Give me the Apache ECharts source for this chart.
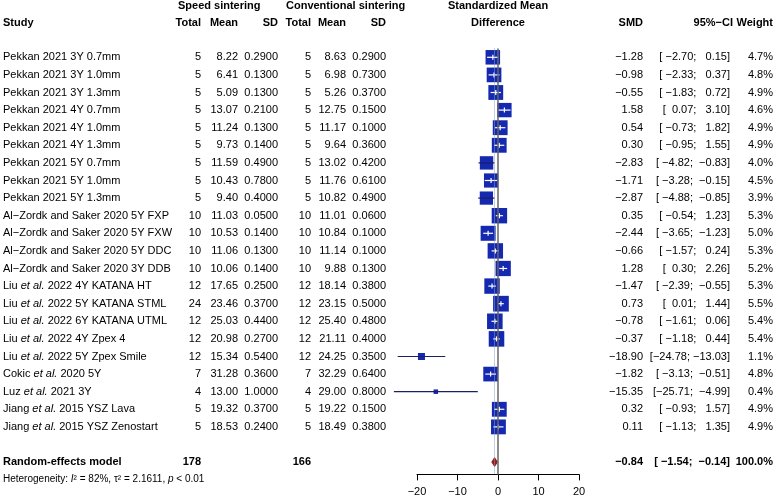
<!doctype html>
<html lang="en">
<head>
<meta charset="UTF-8">
<title>Forest plot</title>
<style>
  html, body { margin: 0; padding: 0; background: #fff; }
  #chart { width: 776px; height: 498px; }
</style>
</head>
<body>
<div id="chart"></div>
<script src="https://cdn.jsdelivr.net/npm/echarts@6/dist/echarts.min.js"></script>
<script>
// study table
var studies = [
  'Pekkan 2021 3Y 0.7mm', 'Pekkan 2021 3Y 1.0mm', 'Pekkan 2021 3Y 1.3mm',
  'Pekkan 2021 4Y 0.7mm', 'Pekkan 2021 4Y 1.0mm', 'Pekkan 2021 4Y 1.3mm',
  'Pekkan 2021 5Y 0.7mm', 'Pekkan 2021 5Y 1.0mm', 'Pekkan 2021 5Y 1.3mm',
  'Al\u2212Zordk and Saker 2020 5Y FXP', 'Al\u2212Zordk and Saker 2020 5Y FXW',
  'Al\u2212Zordk and Saker 2020 5Y DDC', 'Al\u2212Zordk and Saker 2020 3Y DDB',
  'Liu et al. 2022 4Y KATANA HT', 'Liu et al. 2022 5Y KATANA STML', 'Liu et al. 2022 6Y KATANA UTML',
  'Liu et al. 2022 4Y Zpex 4', 'Liu et al. 2022 5Y Zpex Smile',
  'Cokic et al. 2020 5Y', 'Luz et al. 2021 3Y',
  'Jiang et al. 2015 YSZ Lava', 'Jiang et al. 2015 YSZ Zenostart'
];
var speedTotal = [5, 5, 5, 5, 5, 5, 5, 5, 5, 10, 10, 10, 10, 12, 24, 12, 12, 12, 7, 4, 5, 5];
var speedMean = [8.22, 6.41, 5.09, 13.07, 11.24, 9.73, 11.59, 10.43, 9.40, 11.03, 10.53, 11.06, 10.06,
                 17.65, 23.46, 25.03, 20.98, 15.34, 31.28, 13.00, 19.32, 18.53];
var speedSD = [0.29, 0.13, 0.13, 0.21, 0.13, 0.14, 0.49, 0.78, 0.40, 0.05, 0.14, 0.13, 0.14,
               0.25, 0.37, 0.44, 0.27, 0.54, 0.36, 1.00, 0.37, 0.24];
var convTotal = [5, 5, 5, 5, 5, 5, 5, 5, 5, 10, 10, 10, 10, 12, 12, 12, 12, 12, 7, 4, 5, 5];
var convMean = [8.63, 6.98, 5.26, 12.75, 11.17, 9.64, 13.02, 11.76, 10.82, 11.01, 10.84, 11.14, 9.88,
                18.14, 23.15, 25.40, 21.11, 24.25, 32.29, 29.00, 19.22, 18.49];
var convSD = [0.29, 0.73, 0.37, 0.15, 0.10, 0.36, 0.42, 0.61, 0.49, 0.06, 0.10, 0.10, 0.13,
              0.38, 0.50, 0.48, 0.40, 0.35, 0.64, 0.80, 0.15, 0.38];
var smd = [-1.28, -0.98, -0.55, 1.58, 0.54, 0.30, -2.83, -1.71, -2.87, 0.35, -2.44, -0.66, 1.28,
           -1.47, 0.73, -0.78, -0.37, -18.90, -1.82, -15.35, 0.32, 0.11];
var ciLow = [-2.70, -2.33, -1.83, 0.07, -0.73, -0.95, -4.82, -3.28, -4.88, -0.54, -3.65, -1.57, 0.30,
             -2.39, 0.01, -1.61, -1.18, -24.78, -3.13, -25.71, -0.93, -1.13];
var ciHigh = [0.15, 0.37, 0.72, 3.10, 1.82, 1.55, -0.83, -0.15, -0.85, 1.23, -1.23, 0.24, 2.26,
              -0.55, 1.44, 0.06, 0.44, -13.03, -0.51, -4.99, 1.57, 1.35];
var weight = [4.7, 4.8, 4.9, 4.6, 4.9, 4.9, 4.0, 4.5, 3.9, 5.3, 5.0, 5.3, 5.2,
              5.3, 5.5, 5.4, 5.4, 1.1, 4.8, 0.4, 4.9, 4.9];

// pooled (random effects)
var pooledTotals = [178, 166];
var pooledEst = [-0.84, -1.54, -0.14];
var heterogeneity = { i2: '82%', tau2: '2.1611', p: '0.01' };
var xTicks = [-20, -10, 0, 10, 20];

var FONT = "'Liberation Sans', Arial, sans-serif";
var SUMMARY_ROW = 23;
var HET_ROW = 24;

function minus(s) { return String(s).replace('-', '\u2212'); }
function f2(v) { return minus(v.toFixed(2)); }
function pad(s, w) { while (s.length < w) s = ' ' + s; return s; }
function ciText(lo, hi) { return '[' + pad(f2(lo), 6) + '; ' + pad(f2(hi), 6) + ']'; }

function txt(x, y, s, align, bold, size) {
  var font = (bold ? 'bold ' : '') + (size || 11) + 'px ' + FONT;
  return {
    type: 'text',
    style: {
      x: x, y: y, text: s, fill: '#000', font: font,
      align: align, textAlign: align, verticalAlign: 'middle', textVerticalAlign: 'middle',
      rich: {
        it: { font: 'italic ' + (size || 11) + 'px ' + FONT, fill: '#000' }
      }
    }
  };
}

function renderStudy(params, api) {
  var i = params.dataIndex;
  var y = api.coord([0, i])[1];
  var xm = api.coord([smd[i], i])[0];
  var xl = api.coord([ciLow[i], i])[0];
  var xh = api.coord([ciHigh[i], i])[0];
  var side = Math.max(4.5, 6.7 * Math.sqrt(weight[i]));
  var inside = (xh - xl) <= side;
  var name = studies[i].replace('et al.', '{it|et al.}');
  var kids = [
    txt(3, y, name, 'left'),
    txt(201, y, String(speedTotal[i]), 'right'),
    txt(238, y, speedMean[i].toFixed(2), 'right'),
    txt(278, y, speedSD[i].toFixed(4), 'right'),
    txt(311, y, String(convTotal[i]), 'right'),
    txt(346, y, convMean[i].toFixed(2), 'right'),
    txt(386, y, convSD[i].toFixed(4), 'right'),
    txt(643, y, f2(smd[i]), 'right'),
    txt(730, y, ciText(ciLow[i], ciHigh[i]), 'right'),
    txt(773, y, weight[i].toFixed(1) + '%', 'right'),
    {
      type: 'rect',
      shape: { x: xm - side / 2, y: y - side / 2, width: side, height: side },
      style: { fill: '#1428b0' }
    },
    {
      type: 'line',
      shape: { x1: xl, y1: y, x2: xh, y2: y },
      style: { stroke: inside ? '#fff' : '#1c2060', lineWidth: 1.2 }
    }
  ];
  if (inside) {
    kids.push({
      type: 'line',
      shape: { x1: xm, y1: y - 2.5, x2: xm, y2: y + 2.5 },
      style: { stroke: '#fff', lineWidth: 1.2 }
    });
  }
  return { type: 'group', children: kids };
}

function renderPooled(params, api) {
  var y = api.coord([0, SUMMARY_ROW])[1];
  var yh = api.coord([0, HET_ROW])[1];
  var xm = api.coord([pooledEst[0], SUMMARY_ROW])[0];
  var xl = api.coord([pooledEst[1], SUMMARY_ROW])[0];
  var xh = api.coord([pooledEst[2], SUMMARY_ROW])[0];
  var h = 4.5;
  var het = {
    type: 'text',
    style: {
      x: 3, y: yh, fill: '#000', font: '10px ' + FONT,
      align: 'left', textAlign: 'left', verticalAlign: 'middle', textVerticalAlign: 'middle',
      text: 'Heterogeneity: {it|I}\u00b2 = ' + heterogeneity.i2 + ', \u03c4\u00b2 = ' + heterogeneity.tau2 +
            ', {it|p} < ' + heterogeneity.p,
      rich: { it: { font: 'italic 10px ' + FONT, fill: '#000' } }
    }
  };
  return {
    type: 'group',
    children: [
      txt(3, y, 'Random-effects model', 'left', true),
      txt(201, y, String(pooledTotals[0]), 'right', true),
      txt(311, y, String(pooledTotals[1]), 'right', true),
      txt(643, y, f2(pooledEst[0]), 'right', true),
      txt(730, y, ciText(pooledEst[1], pooledEst[2]), 'right', true),
      txt(773, y, '100.0%', 'right', true),
      {
        type: 'polygon',
        shape: { points: [[xl, y], [xm, y - h], [xh, y], [xm, y + h]] },
        style: { fill: '#9b1b1b', stroke: '#7a1010', lineWidth: 0.8 }
      },
      het
    ]
  };
}

function head(x, y, s, align) {
  return {
    type: 'text',
    x: x, y: y,
    style: {
      text: s, fill: '#000', font: 'bold 11px ' + FONT,
      align: align, textAlign: align, verticalAlign: 'middle', textVerticalAlign: 'middle'
    }
  };
}

var chart = echarts.init(document.getElementById('chart'), null, { renderer: 'canvas' });

var option = {
  animation: false,
  backgroundColor: '#fff',
  grid: { left: 417, right: 197, top: 48.5, bottom: 23.6 },
  xAxis: {
    type: 'value', min: -20, max: 20, interval: 10,
    axisLine: { show: true, onZero: false, lineStyle: { color: '#000', width: 1 } },
    axisTick: { show: true, length: 6, lineStyle: { color: '#000' } },
    axisLabel: {
      color: '#000', fontSize: 11, fontFamily: FONT, margin: 12,
      formatter: function (v) { return minus(v); }
    },
    splitLine: { show: false }
  },
  yAxis: { type: 'value', inverse: true, min: -0.5, max: 23.7, show: false },
  graphic: [
    head(178, 6, 'Speed sintering', 'left'),
    head(286, 6, 'Conventional sintering', 'left'),
    head(498, 6, 'Standardized Mean', 'center'),
    head(3, 23, 'Study', 'left'),
    head(201, 23, 'Total', 'right'),
    head(238, 23, 'Mean', 'right'),
    head(278, 23, 'SD', 'right'),
    head(311, 23, 'Total', 'right'),
    head(346, 23, 'Mean', 'right'),
    head(386, 23, 'SD', 'right'),
    head(498, 23, 'Difference', 'center'),
    head(643, 23, 'SMD', 'right'),
    head(733, 23, '95%\u2212CI', 'right'),
    head(773, 23, 'Weight', 'right')
  ],
  series: [
    {
      type: 'custom',
      clip: false,
      silent: true,
      data: smd.map(function (v, i) { return [v, i]; }),
      renderItem: renderStudy,
      markLine: {
        silent: true,
        symbol: 'none',
        label: { show: false },
        data: [
          { xAxis: 0, lineStyle: { color: '#666', width: 1.5, type: 'solid' } },
          { xAxis: pooledEst[0], lineStyle: { color: '#8aa6c0', width: 1, type: 'dotted' } }
        ]
      },
      z: 3
    },
    {
      type: 'custom',
      clip: false,
      silent: true,
      data: [[pooledEst[0], SUMMARY_ROW]],
      renderItem: renderPooled,
      z: 4
    }
  ]
};

chart.setOption(option);
</script>
</body>
</html>
